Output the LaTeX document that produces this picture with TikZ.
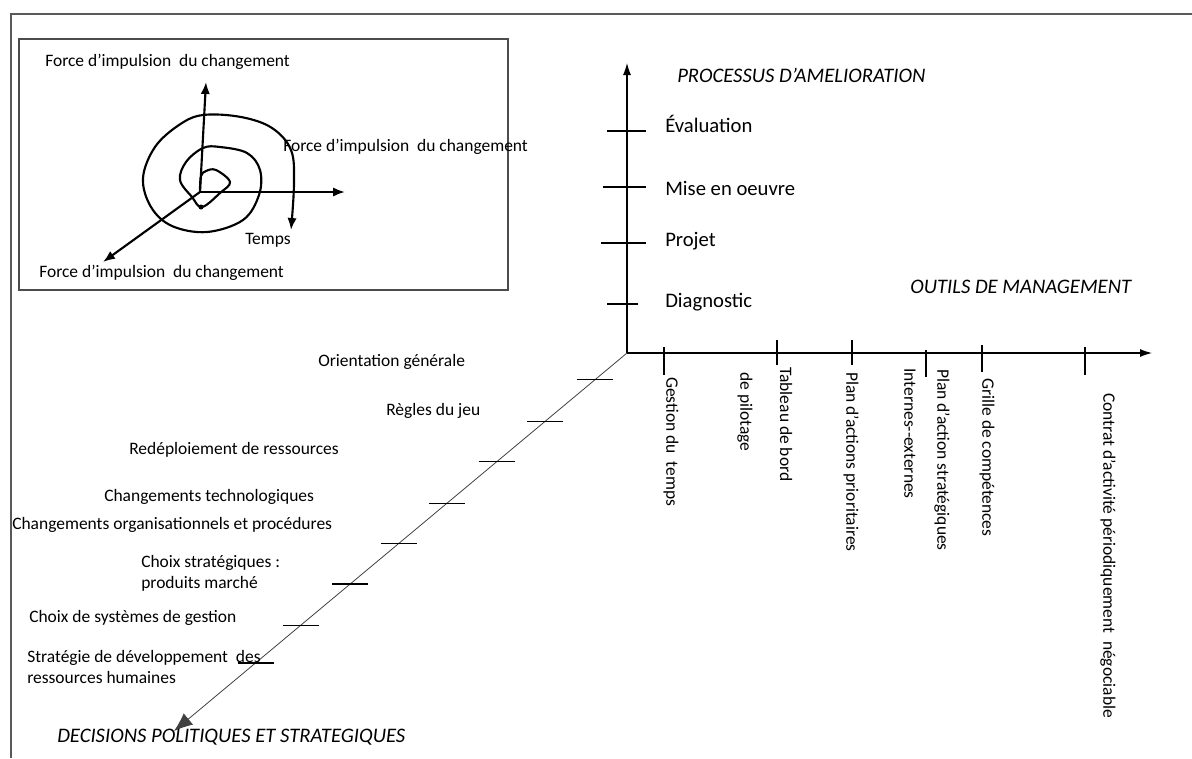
\documentclass[tikz,border=0pt]{standalone}
\usepackage{fontspec}
\setmainfont{Carlito}
\usetikzlibrary{arrows.meta,calc}

\tikzset{
  lbl/.style={inner sep=0pt, anchor=west, font=\fontsize{13.1}{15.75}\selectfont},
  biglbl/.style={inner sep=0pt, anchor=west, font=\fontsize{15.5}{18}\selectfont},
  axtitle/.style={inner sep=0pt, anchor=west, font=\fontsize{15.5}{18}\selectfont\itshape},
  vlbl/.style={lbl, rotate=-90},
  axis/.style={line width=0.8pt, -{Latex[length=9pt,width=6pt]}},
  diagaxis/.style={line width=0.6pt, black!75, -{Latex[length=14pt,width=11pt]}},
  tick/.style={line width=0.8pt},
  force/.style={line width=1.6pt, -{Latex[length=9pt,width=7pt]}},
}

\begin{document}
\begin{tikzpicture}[x=0.75pt,y=-0.75pt]
    \useasboundingbox (0,0) rectangle (1192,758);
    % frame
    \draw[line width=1.5pt, gray!70!black] (1192,14) -- (11,14) -- (11,758);

    % inset: spiral of change
    \draw[line width=1pt, gray!60!black] (19,39) rectangle (508,290);
    \coordinate (c) at (200,192);
    \coordinate (c-up) at (206,82);
    \coordinate (c-right) at (345,192);
    \coordinate (c-down) at (103,262);
    \draw[force] (c) -- (c-up);
    \draw[force] (c) -- (c-right);
    \draw[force] (c) -- (c-down);
    \draw[force] plot[smooth, tension=0.6] coordinates {
        (200,190) (201,176) (206,171) (216,170) (230,182) (220,193) (202,207)
        (192,197) (180,180) (186,162) (203,148) (220,147) (247,153) (260,170)
        (259,195) (243,220) (207,232) (172,226) (151,207) (143,178) (155,147)
        (179,125) (203,115) (241,117) (272,128) (291,150) (294,183) (291,230)};
    \fill (201,207) circle (2.5);
    \node[lbl] (f-up) at (45,62) {Force d’impulsion\ \ du changement};
    \node[lbl] (f-right) at (283,147) {Force d’impulsion\ \ du changement};
    \node[lbl] (f-down) at (39,273) {Force d’impulsion\ \ du changement};
    \node[lbl] (temps) at (245,240) {Temps};

    % axes
    \coordinate (O) at (627,353);
    \coordinate (P) at (627,63);
    \coordinate (M) at (1152,353);
    \coordinate (D) at (174,731);
    \draw[axis] (O) -- (P);
    \draw[axis] (O) -- (M);
    \draw[diagaxis] (O) -- (D);

    % titles
    \node[axtitle] (t-proc) at (677,75) {PROCESSUS D'AMELIORATION};
    \node[axtitle] (t-outils) at (910,287) {OUTILS DE MANAGEMENT};
    \node[axtitle] (t-dec) at (57,737) {DECISIONS POLITIQUES ET STRATEGIQUES};

    % improvement process
    \foreach \a/\b/\y in {607/646/131, 603/646/187, 601/646/243, 607/638/304} {
        \draw[tick] (\a,\y) -- (\b,\y);
    }
    \foreach \y/\txt [count=\i] in {124/Évaluation, 188/Mise en oeuvre, 241/Projet, 302/Diagnostic} {
        \node[biglbl] (proc-\i) at (665,\y) {\txt};
    }

    % management tools
    \foreach \x/\a/\b in {664/347/375, 777/340/365, 852/340/365, 926/350/377, 982/345/372, 1085/347/375} {
        \draw[tick] (\x,\a) -- (\x,\b);
    }
    \foreach \x/\y/\txt [count=\i] in {671/377/Gestion du\ \ temps, 745/372/de pilotage, 786/367/Tableau de bord,
        851/372/Plan d’actions prioritaires, 910/368/Internes-{}-externes, 942/369/Plan d’action stratégiques,
        987/378/Grille de compétences, 1108/393/Contrat d’activité périodiquement\ \ négociable} {
        \node[vlbl] (tool-\i) at (\x,\y) {\txt};
    }

    % decisions
    \foreach \t [count=\i] in {0.071,0.18,0.288,0.397,0.503,0.611,0.72,0.82} {
        \coordinate (d\i) at ($(O)!\t!(D)$);
        \draw[tick] ($(d\i)+(-18,0)$) -- ($(d\i)+(18,0)$);
    }
    \node[lbl] (dec-1) at (318,362) {Orientation générale};
    \node[lbl] (dec-2) at (386,411) {Règles du jeu};
    \node[lbl] (dec-3) at (129,450) {Redéploiement de ressources};
    \node[lbl] (dec-4) at (104,497) {Changements technologiques};
    \node[lbl] (dec-5) at (12,525) {Changements organisationnels et procédures};
    \node[lbl, align=left] (dec-6) at (141,573.5) {Choix stratégiques :\\produits marché};
    \node[lbl] (dec-7) at (29,618) {Choix de systèmes de gestion};
    \node[lbl, align=left] (dec-8) at (27,666.5) {Stratégie de développement\ \ des\\ressources humaines};
\end{tikzpicture}
\end{document}
